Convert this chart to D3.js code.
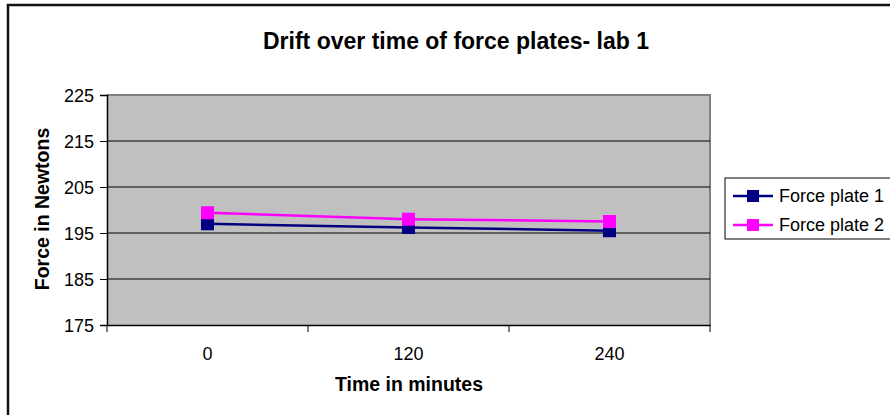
<!DOCTYPE html>
<html><head><meta charset="utf-8">
<script src="https://cdn.jsdelivr.net/npm/d3@7"></script>
<style>body{margin:0;background:#fff}svg{display:block;font-family:"Liberation Sans",Arial,sans-serif}</style>
</head><body>
<svg id="c" width="890" height="415"></svg>
<script>
const categories = ["0", "120", "240"];
const plate1 = [197.0, 196.2, 195.5];
const plate2 = [199.4, 198.0, 197.5];
const yTicks = [175, 185, 195, 205, 215, 225];
const seriesNames = ["Force plate 1", "Force plate 2"];
const seriesColors = ["#000080", "#FF00FF"];

const svg = d3.select("#c");
svg.append("path").attr("d","M8,415 L8,5 L890,5").attr("fill","none").attr("stroke","#111").attr("stroke-width",2.5);

const L=107, R=710, T=95, B=325;
const x = d3.scaleBand().domain(categories).range([L,R]);
const y = d3.scaleLinear().domain([175,225]).range([B,T]);

svg.append("rect").attr("x",L).attr("y",T).attr("width",R-L).attr("height",B-T).attr("fill","#C0C0C0");
svg.append("path").attr("d",`M${L},${T} H${R} V${B}`).attr("fill","none").attr("stroke","#808080").attr("stroke-width",2);
svg.append("g").selectAll("line").data(yTicks.slice(1,-1)).join("line")
  .attr("x1",L).attr("x2",R).attr("y1",d=>y(d)).attr("y2",d=>y(d)).attr("stroke","#000").attr("stroke-width",1);

const ya = svg.append("g").attr("transform",`translate(${L},0)`)
  .call(d3.axisLeft(y).tickValues(yTicks).tickSize(7).tickPadding(6).tickFormat(d3.format("d")));
ya.attr("font-size",null).attr("font-family",null);
ya.select(".domain").attr("stroke","#000").attr("stroke-width",1.5);
ya.selectAll(".tick line").attr("stroke","#000");
ya.selectAll("text").attr("font-size",18).attr("fill","#000").attr("dy","0.36em");

const xa = svg.append("g").attr("transform",`translate(0,${B})`)
  .call(d3.axisBottom(x).tickSize(0).tickPadding(0));
xa.attr("font-size",null).attr("font-family",null);
xa.select(".domain").attr("stroke","#000").attr("stroke-width",1.5);
xa.selectAll("text").attr("font-size",18).attr("fill","#000").attr("dy",null).attr("y",35);
const bounds = categories.map(c=>x(c)).concat([R]);
xa.selectAll(".sep").data(bounds).join("line").attr("class","sep")
  .attr("x1",d=>d).attr("x2",d=>d).attr("y1",0).attr("y2",7).attr("stroke","#000");

const data = [plate1, plate2];
const line = d3.line().x((d,i)=>x(categories[i])+x.bandwidth()/2).y(d=>y(d));
data.forEach((s,k)=>{
  svg.append("path").datum(s).attr("d",line).attr("fill","none").attr("stroke",seriesColors[k]).attr("stroke-width",2.5);
  svg.append("g").selectAll("rect").data(s).join("rect")
    .attr("x",(d,i)=>x(categories[i])+x.bandwidth()/2-6.5).attr("y",d=>y(d)-6.5)
    .attr("width",13).attr("height",13).attr("fill",seriesColors[k]);
});

svg.append("text").attr("x",456).attr("y",49).attr("text-anchor","middle")
  .attr("font-size",23).attr("font-weight","bold").text("Drift over time of force plates- lab 1");
svg.append("text").attr("x",409).attr("y",391).attr("text-anchor","middle")
  .attr("font-size",19.5).attr("font-weight","bold").text("Time in minutes");
svg.append("text").attr("transform","translate(49,209) rotate(-90)").attr("text-anchor","middle")
  .attr("font-size",19.5).attr("font-weight","bold").text("Force in Newtons");

const lg = svg.append("g");
lg.append("rect").attr("x",725).attr("y",178).attr("width",175).attr("height",61).attr("fill","#fff").attr("stroke","#000").attr("stroke-width",1);
seriesNames.forEach((n,k)=>{
  const yy = 196 + k*29;
  lg.append("line").attr("x1",733).attr("x2",773).attr("y1",yy).attr("y2",yy).attr("stroke",seriesColors[k]).attr("stroke-width",2.5);
  lg.append("rect").attr("x",747).attr("y",yy-6).attr("width",12).attr("height",12).attr("fill",seriesColors[k]);
  lg.append("text").attr("x",779).attr("y",yy+6).attr("font-size",18).text(n);
});
</script>
</body></html>
